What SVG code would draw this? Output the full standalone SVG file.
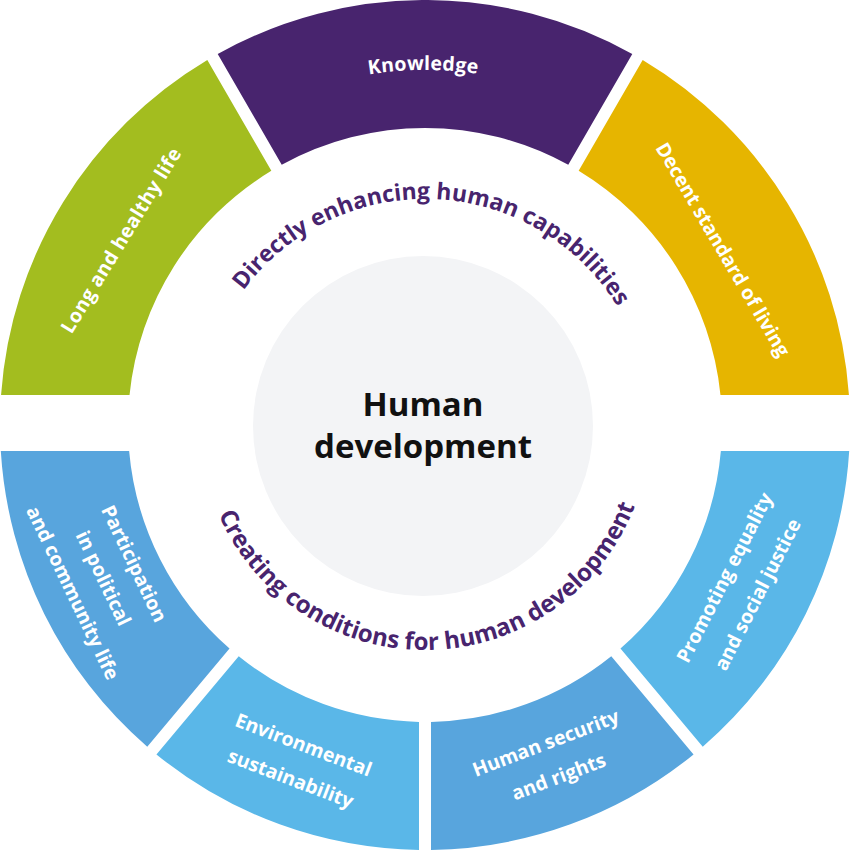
<svg xmlns="http://www.w3.org/2000/svg" width="850" height="851" viewBox="0 0 850 851">
<style>
.lbl{font-family:"Open Sans","Liberation Sans",sans-serif;font-weight:700;font-size:19.5px;fill:#ffffff;text-anchor:middle}
.arc{font-family:"Open Sans","Liberation Sans",sans-serif;font-weight:700;font-size:23px;fill:#48246e}
.arcB{font-size:24px}
.title{font-family:"Open Sans","Liberation Sans",sans-serif;font-weight:700;font-size:33px;fill:#111111;text-anchor:middle}
.green{fill:#a3bd1f}.purple{fill:#48246e}.gold{fill:#e6b500}.blueA{fill:#58a5dd}.blueB{fill:#5ab7e8}
</style>
<defs>
<path id="topArc" d="M 199 425 A 226 226 0 0 1 651 425" transform="rotate(2.5 425 425)"/>
<path id="botArc" d="M 200 425 A 225 225 0 0 0 650 425" transform="rotate(-1.2 425 425)"/>
<path id="knowArc" d="M 70 425 A 355 355 0 0 1 780 425"/>
</defs>
<rect width="850" height="851" fill="#ffffff"/>
<g id="center">
<circle cx="423" cy="426" r="170" fill="#f3f4f6"/>
<text class="title" x="423" y="416">Human</text>
<text class="title" x="423" y="458">development</text>
</g>
<g id="long-healthy-life">
<path class="green" d="M 1.06 395 A 425 425 0 0 1 207.32 59.98 L 271.33 170.84 A 297 297 0 0 0 129.52 395 Z"/>
<text class="lbl" transform="translate(425 425) rotate(-58.7) translate(0 -349)" letter-spacing="0.4">Long and healthy life</text>
</g>
<g id="knowledge">
<path class="purple" d="M 217.71 53.97 A 425 425 0 0 1 632.29 53.97 L 568.27 164.84 A 297 297 0 0 0 281.73 164.84 Z"/>
<text class="lbl" transform="rotate(-0.3 425 425)" letter-spacing="0.3"><textPath href="#knowArc" startOffset="50%">Knowledge</textPath></text>
</g>
<g id="decent-standard">
<path class="gold" d="M 848.94 395 A 425 425 0 0 0 642.68 59.98 L 578.67 170.84 A 297 297 0 0 1 720.48 395 Z"/>
<text class="lbl" transform="translate(425 425) rotate(59.5) translate(0 -339)">Decent standard of living</text>
</g>
<g id="participation">
<path class="blueA" d="M 0.80 451 A 425 425 0 0 0 147.25 746.68 L 229.53 648.61 A 297 297 0 0 1 129.14 451 Z"/>
<g transform="translate(425 425) rotate(64.5)">
<text class="lbl" x="0" y="329">Participation</text>
<text class="lbl" x="0" y="363">in political</text>
<text class="lbl" x="0" y="397">and community life</text>
</g>
</g>
<g id="environmental">
<path class="blueB" d="M 156.44 754.39 A 425 425 0 0 0 419 849.96 L 419 721.94 A 297 297 0 0 1 238.73 656.33 Z"/>
<g transform="translate(425 425) rotate(20.8)">
<text class="lbl" x="0" y="349">Environmental</text>
<text class="lbl" x="0" y="385">sustainability</text>
</g>
</g>
<g id="human-security">
<path class="blueA" d="M 693.56 754.39 A 425 425 0 0 1 431 849.96 L 431 721.94 A 297 297 0 0 0 611.27 656.33 Z"/>
<g transform="translate(425 425) rotate(-20.8)">
<text class="lbl" x="0" y="347">Human security</text>
<text class="lbl" x="0" y="383">and rights</text>
</g>
</g>
<g id="promoting-equality">
<path class="blueB" d="M 849.20 451 A 425 425 0 0 1 702.75 746.68 L 620.47 648.61 A 297 297 0 0 0 720.86 451 Z"/>
<g transform="translate(425 425) rotate(-63)">
<text class="lbl" x="0" y="343">Promoting equality</text>
<text class="lbl" x="0" y="380">and social justice</text>
</g>
</g>
<g id="group-labels">
<text class="arc" text-anchor="middle"><textPath href="#topArc" startOffset="50%">Directly enhancing human capabilities</textPath></text>
<text class="arc arcB" text-anchor="middle"><textPath href="#botArc" startOffset="50%">Creating conditions for human development</textPath></text>
</g>
<g id="connectors"></g>
</svg>
